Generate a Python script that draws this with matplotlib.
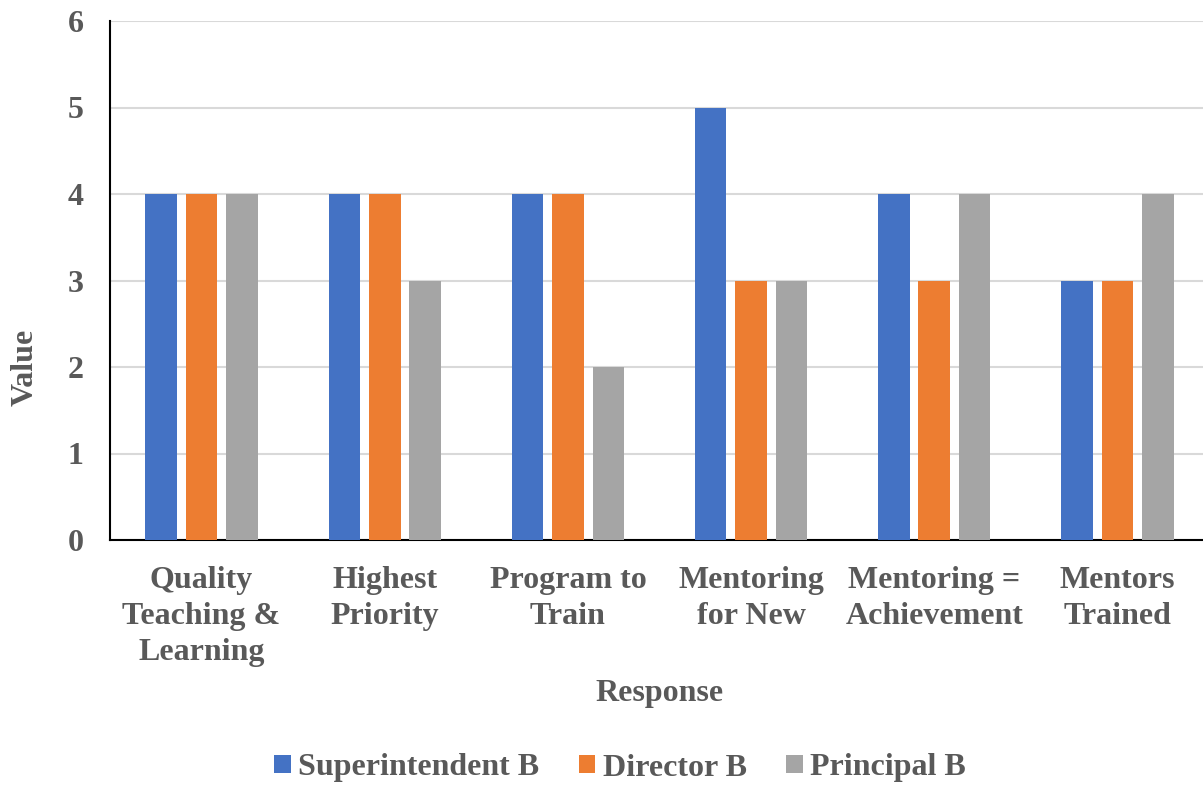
import matplotlib
matplotlib.use("Agg")
import matplotlib.pyplot as plt
import numpy as np

categories = ["Quality\nTeaching &\nLearning", "Highest\nPriority", "Program to\nTrain",
              "Mentoring\nfor New", "Mentoring =\nAchievement", "Mentors\nTrained"]
series_names = ["Superintendent B", "Director B", "Principal B"]
superintendent = [4, 4, 4, 5, 4, 3]
director = [4, 4, 4, 3, 3, 3]
principal = [4, 3, 2, 3, 4, 4]
colors = ["#4472C4", "#ED7D31", "#A5A5A5"]
y_ticks = [0, 1, 2, 3, 4, 5, 6]

text_color = "#595959"
fs = 23
plt.rcParams["font.family"] = ["Liberation Serif", "DejaVu Serif"]
plt.rcParams["font.weight"] = "bold"

fig = plt.figure(figsize=(12.03, 7.87), dpi=100)
ax = fig.add_axes([110 / 1203, 1 - 540 / 787, 1099 / 1203, 519 / 787])

x = np.arange(len(categories))
bar_w = 0.172
step = 0.2206
for i, (vals, name, c) in enumerate(zip([superintendent, director, principal], series_names, colors)):
    ax.bar(x + (i - 1) * step, vals, width=bar_w, color=c, label=name, zorder=3)

ax.set_xlim(-0.5, len(categories) - 0.5)
ax.set_ylim(0, 6)
ax.set_yticks(y_ticks)
ax.set_yticklabels([str(t) for t in y_ticks], fontsize=fs, fontweight="bold", color=text_color)
ax.set_xticks(x)
ax.set_xticklabels(categories, fontsize=fs, fontweight="bold", color=text_color, linespacing=1.3)
ax.tick_params(axis="y", length=0, pad=19)
ax.tick_params(axis="x", length=0, pad=19)

ax.yaxis.grid(True, color="#D9D9D9", linewidth=1.5, zorder=0)
ax.set_axisbelow(True)
for s in ["top", "right"]:
    ax.spines[s].set_visible(False)
ax.spines["left"].set_color("black")
ax.spines["left"].set_linewidth(1.5)
ax.spines["bottom"].set_color("black")
ax.spines["bottom"].set_linewidth(1.5)

fig.text(25 / 1203, 1 - 367 / 787, "Value", rotation=90, ha="center", va="center",
         fontsize=fs, fontweight="bold", color=text_color)
fig.text(660 / 1203, 1 - 693 / 787, "Response", ha="center", va="center",
         fontsize=fs, fontweight="bold", color=text_color)

handles, labels = ax.get_legend_handles_labels()
leg = fig.legend(handles, labels, loc="center", bbox_to_anchor=(620 / 1203, 1 - 768 / 787),
                 ncol=3, frameon=False, handlelength=0.52, handleheight=0.52,
                 handletextpad=0.22, columnspacing=1.25,
                 prop={"size": fs, "weight": "bold"})
for t in leg.get_texts():
    t.set_color(text_color)

fig.savefig("out.png", dpi=100)
